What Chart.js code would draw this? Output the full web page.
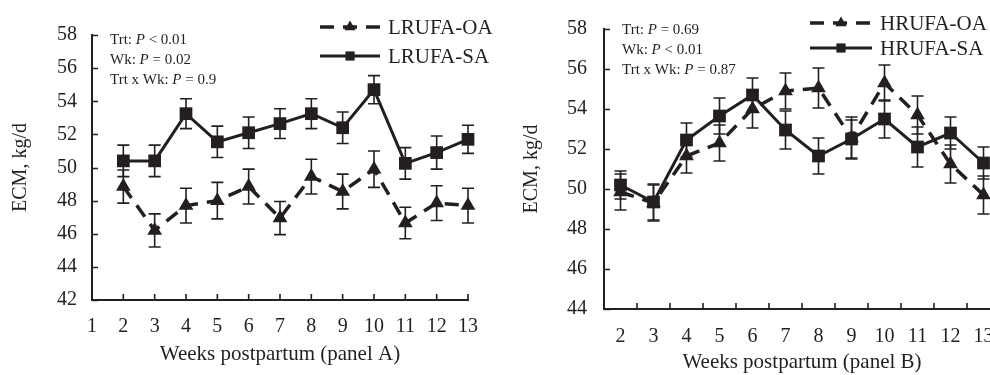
<!DOCTYPE html>
<html>
<head>
<meta charset="utf-8">
<script src="https://cdn.jsdelivr.net/npm/chart.js@4.4.1/dist/chart.umd.min.js"></script>
<style>
  html, body { margin: 0; padding: 0; background: #fff; overflow: hidden; width: 990px; height: 375px; }
  #cA { position: absolute; left: 0; top: 0; }
  #cB { position: absolute; left: 500px; top: 0; }
</style>
</head>
<body>
<canvas id="cA" width="500" height="375"></canvas>
<canvas id="cB" width="520" height="375"></canvas>
<script>
// weeks postpartum
const weeks = [2, 3, 4, 5, 6, 7, 8, 9, 10, 11, 12, 13];

// panel A (low RUFA)
const lrufaOA = [48.85, 46.2, 47.7, 48.0, 48.85, 46.95, 49.45, 48.55, 49.9, 46.65, 47.85, 47.7];
const lrufaOAsem = [1.0, 1.0, 1.05, 1.1, 1.05, 1.0, 1.05, 1.05, 1.1, 0.95, 1.05, 1.05];
const lrufaSA = [50.4, 50.4, 53.25, 51.55, 52.1, 52.65, 53.25, 52.4, 54.7, 50.25, 50.9, 51.7];
const lrufaSAsem = [0.95, 0.95, 0.9, 0.95, 0.95, 0.9, 0.9, 0.95, 0.85, 0.95, 1.0, 0.85];

// panel B (high RUFA)
const hrufaOA = [49.85, 49.3, 51.65, 52.3, 54.0, 54.9, 55.05, 52.55, 55.3, 53.7, 51.25, 49.7];
const hrufaOAsem = [0.9, 0.9, 0.85, 0.9, 0.95, 0.9, 1.0, 1.05, 0.9, 0.95, 0.95, 0.95];
const hrufaSA = [50.2, 49.35, 52.45, 53.65, 54.7, 52.95, 51.65, 52.5, 53.5, 52.1, 52.8, 51.3];
const hrufaSAsem = [0.7, 0.9, 0.85, 0.9, 0.85, 0.95, 0.9, 0.95, 0.95, 1.0, 0.8, 0.8];

const notesA = [['Trt: ', 'P', ' < 0.01'], ['Wk: ', 'P', ' = 0.02'], ['Trt x Wk: ', 'P', ' = 0.9']];
const notesB = [['Trt: ', 'P', ' = 0.69'], ['Wk: ', 'P', ' < 0.01'], ['Trt x Wk: ', 'P', ' = 0.87']];

const ink = '#231f20';
const serif = "'Liberation Serif', 'Times New Roman', serif";

function marker(ctx, style, x, y, r) {
  ctx.beginPath();
  if (style === 'rect') {
    const s = r * Math.SQRT1_2;
    ctx.rect(x - s, y - s, 2 * s, 2 * s);
  } else {
    ctx.moveTo(x, y - r);
    ctx.lineTo(x + r * 0.866, y + r * 0.5);
    ctx.lineTo(x - r * 0.866, y + r * 0.5);
    ctx.closePath();
  }
  ctx.fill();
}

const errorBars = {
  id: 'errorBars',
  beforeDatasetsDraw(chart) {
    const ctx = chart.ctx, ys = chart.scales.y;
    chart.data.datasets.forEach((ds, i) => {
      const meta = chart.getDatasetMeta(i);
      ctx.save();
      ctx.strokeStyle = ink;
      ctx.lineWidth = 1.6;
      ctx.beginPath();
      meta.data.forEach((pt, j) => {
        const top = ys.getPixelForValue(ds.data[j] + ds.sem[j]);
        const bot = ys.getPixelForValue(ds.data[j] - ds.sem[j]);
        ctx.moveTo(pt.x, top); ctx.lineTo(pt.x, bot);
        ctx.moveTo(pt.x - 6, top); ctx.lineTo(pt.x + 6, top);
        ctx.moveTo(pt.x - 6, bot); ctx.lineTo(pt.x + 6, bot);
      });
      ctx.stroke();
      ctx.restore();
    });
  }
};

const innerTicks = {
  id: 'innerTicks',
  afterDraw(chart, args, o) {
    const {ctx, chartArea: a, scales: {x, y}} = chart;
    ctx.save();
    ctx.strokeStyle = ink;
    ctx.lineWidth = 1.6;
    ctx.beginPath();
    y.ticks.forEach(t => {
      const py = Math.round(y.getPixelForValue(t.value)) + 0.5;
      ctx.moveTo(a.left, py); ctx.lineTo(a.left + 6, py);
    });
    if (o.between) {
      for (let i = 1; i <= weeks.length; i++) {
        const px = i < weeks.length
          ? (x.getPixelForValue(i - 1) + x.getPixelForValue(i)) / 2
          : x.getPixelForValue(i - 1) + (x.getPixelForValue(1) - x.getPixelForValue(0)) / 2;
        ctx.moveTo(px, a.bottom); ctx.lineTo(px, a.bottom - 6);
      }
    } else {
      x.ticks.forEach(t => {
        const px = x.getPixelForValue(t.value);
        ctx.moveTo(px, a.bottom); ctx.lineTo(px, a.bottom - 6);
      });
    }
    ctx.stroke();
    ctx.restore();
  }
};

const sampleLegend = {
  id: 'sampleLegend',
  afterDraw(chart, args, o) {
    const ctx = chart.ctx;
    chart.data.datasets.forEach((ds, i) => {
      const y = o.rows[i];
      ctx.save();
      ctx.strokeStyle = ink;
      ctx.fillStyle = ink;
      ctx.lineWidth = ds.borderWidth;
      ctx.setLineDash(ds.borderDash || []);
      ctx.beginPath(); ctx.moveTo(o.x0, y); ctx.lineTo(o.x1, y); ctx.stroke();
      ctx.setLineDash([]);
      marker(ctx, ds.pointStyle, (o.x0 + o.x1) / 2, y, 6.5);
      ctx.font = '21px ' + serif;
      ctx.textBaseline = 'middle';
      ctx.fillText(ds.label, o.x1 + 8, y + 1);
      ctx.restore();
    });
  }
};

const statNote = {
  id: 'statNote',
  afterDraw(chart, args, o) {
    const ctx = chart.ctx;
    ctx.save();
    ctx.fillStyle = ink;
    ctx.textBaseline = 'middle';
    o.lines.forEach((ln, i) => {
      let x = o.x;
      const y = o.y + i * 20;
      ln.forEach((part, k) => {
        ctx.font = (k === 1 ? 'italic ' : '') + '15px ' + serif;
        ctx.fillText(part, x, y);
        x += ctx.measureText(part).width;
      });
    });
    ctx.restore();
  }
};

function series(label, values, sem, dashed) {
  return {
    label: label,
    data: values,
    sem: sem,
    borderColor: ink,
    backgroundColor: ink,
    borderWidth: dashed ? 3.5 : 3,
    borderDash: dashed ? [14, 9] : [],
    pointStyle: dashed ? 'triangle' : 'rect',
    pointRadius: dashed ? 8.5 : 9,
    pointBackgroundColor: ink,
    pointBorderColor: ink,
    pointBorderWidth: 0,
    tension: 0,
    order: dashed ? 1 : 0,
    clip: false
  };
}

function axisFont(size) { return {family: serif, size: size}; }

function makeChart(id, p) {
  return new Chart(document.getElementById(id), {
    type: 'line',
    data: {
      labels: p.categorical ? weeks.map(String) : weeks,
      datasets: [series(p.names[0], p.oa, p.oaSem, true), series(p.names[1], p.sa, p.saSem, false)]
    },
    options: {
      responsive: false,
      animation: false,
      events: [],
      layout: {padding: p.pad},
      plugins: {
        legend: {display: false},
        tooltip: {enabled: false},
        innerTicks: {between: p.categorical},
        sampleLegend: p.legend,
        statNote: p.note
      },
      scales: {
        x: p.categorical ? {
          type: 'category',
          offset: true,
          afterFit: s => { s.height = p.xH; },
          grid: {offset: true, drawOnChartArea: false, drawTicks: false, tickLength: 0},
          border: {color: ink, width: 2},
          ticks: {color: ink, font: axisFont(20), padding: p.xPad, maxRotation: 0, autoSkip: false},
          title: {display: true, text: p.xTitle, color: ink, font: axisFont(21), padding: {top: 0, bottom: p.xTitlePad}}
        } : {
          type: 'linear',
          min: 1, max: 13,
          afterFit: s => { s.height = p.xH; },
          grid: {drawOnChartArea: false, drawTicks: false, tickLength: 0},
          border: {color: ink, width: 2},
          ticks: {stepSize: 1, color: ink, font: axisFont(20), padding: p.xPad, maxRotation: 0},
          title: {display: true, text: p.xTitle, color: ink, font: axisFont(21), padding: {top: 0, bottom: p.xTitlePad}}
        },
        y: {
          min: p.yMin, max: 58,
          afterFit: s => { s.width = p.yW; },
          grid: {drawOnChartArea: false, drawTicks: false, tickLength: 0},
          border: {color: ink, width: 2},
          ticks: {stepSize: 2, color: ink, font: axisFont(20), padding: p.yPad},
          title: {display: true, text: 'ECM, kg/d', color: ink, font: axisFont(20), padding: {top: p.yTitlePad, bottom: 0}}
        }
      }
    },
    plugins: [errorBars, innerTicks, sampleLegend, statNote]
  });
}

makeChart('cA', {
  categorical: false,
  names: ['LRUFA-OA', 'LRUFA-SA'],
  oa: lrufaOA, oaSem: lrufaOAsem, sa: lrufaSA, saSem: lrufaSAsem,
  pad: {left: 0, right: 32, top: 35, bottom: 0},
  xH: 75, yW: 92, yMin: 42,
  xPad: 15, yPad: 15, xTitlePad: 8, yTitlePad: 9,
  xTitle: 'Weeks postpartum (panel A)',
  legend: {x0: 320, x1: 380, rows: [27, 56]},
  note: {x: 110, y: 40, lines: notesA}
});

makeChart('cB', {
  categorical: true,
  names: ['HRUFA-OA', 'HRUFA-SA'],
  oa: hrufaOA, oaSem: hrufaOAsem, sa: hrufaSA, saSem: hrufaSAsem,
  pad: {left: 0, right: 20, top: 25, bottom: 0},
  xH: 66, yW: 104, yMin: 44,
  xPad: 16, yPad: 17, xTitlePad: 0, yTitlePad: 20,
  xTitle: 'Weeks postpartum (panel B)',
  legend: {x0: 310, x1: 372, rows: [23, 48]},
  note: {x: 122, y: 30, lines: notesB}
});
</script>
</body>
</html>
